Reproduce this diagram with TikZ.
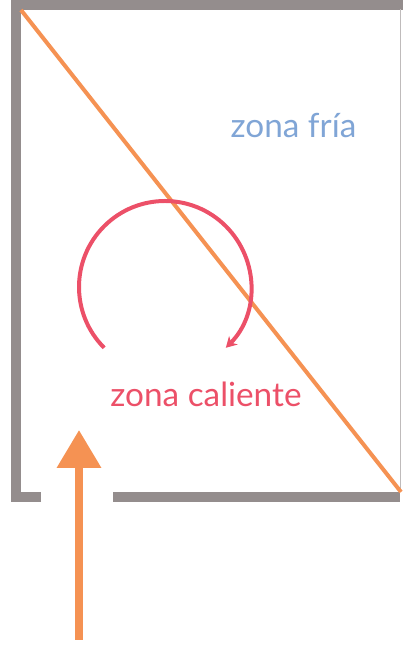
\documentclass[tikz,border=0pt]{standalone}
\usepackage{fontspec}
\setmainfont{Lato}
\usepackage{tikz}
\usetikzlibrary{arrows.meta}
\definecolor{wallGray}{RGB}{148,141,141}
\definecolor{flowOrange}{RGB}{245,146,83}
\definecolor{hotRed}{RGB}{236,80,104}
\definecolor{coldBlue}{RGB}{128,165,214}

\begin{document}
\begin{tikzpicture}[x=0.75pt, y=0.75pt,
					wall/.style={draw=wallGray, line width=7.5pt, miter limit=10},
					zone/.style={anchor=base, font=\fontsize{25}{28}\selectfont},
					flow/.style={draw=flowOrange, line width=6pt, -{Triangle[width=32pt, length=28.5pt]}}]
					\useasboundingbox (0,0) rectangle (403,645);
					\draw[wall] (41,147.5) -- (16,147.5) -- (16,640) -- (403,640);
					\draw[wall] (113,147.5) -- (400,147.5);
					\draw[wallGray!60, line width=0.9pt] (400.5,153) -- (400.5,636);
					\draw[flowOrange, line width=3pt] (21,635) -- (401,153);
					\node[zone, text=coldBlue] (fria) at (293.5,507) {zona fría};
					\node[zone, text=hotRed] (caliente) at (206,238) {zona caliente};
					\draw[hotRed, line width=3pt, -{Stealth[length=8pt, width=9pt, inset=2.5pt]}] (165,358) ++(225:86) arc[start angle=225, end angle=-45, radius=86];
					\coordinate (entrada) at (79,5);
					\coordinate (interior) at (79,215);
					\draw[flow] (entrada) -- (interior);
				\end{tikzpicture}
\end{document}
